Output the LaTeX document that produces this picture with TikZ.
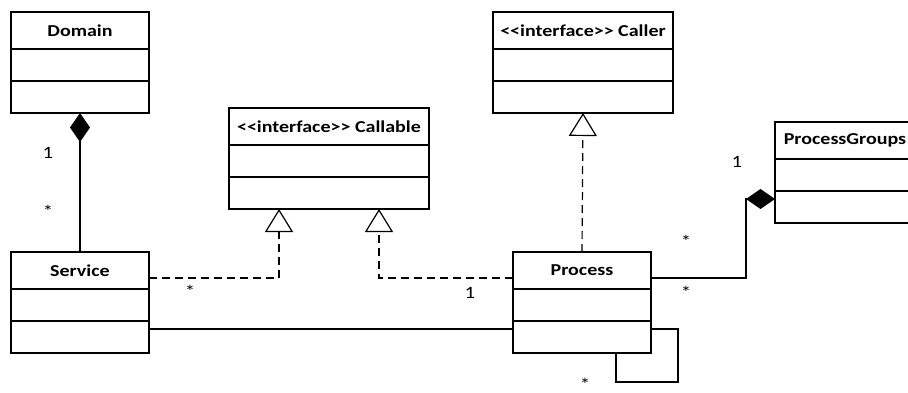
\documentclass[tikz,border=0pt]{standalone}
\usepackage{fontspec}
\setmainfont{Carlito}[FakeStretch=1.2]
\usetikzlibrary{positioning,arrows.meta}

\tikzset{every picture/.style={line width=0.9pt}}
\tikzset{
  classname/.style={draw, anchor=north west, minimum height=27.75pt, inner sep=0pt, outer sep=0pt, font=\fontsize{12.5}{15}\selectfont\bfseries},
  classpart/.style={draw, minimum height=24pt, inner sep=0pt, outer sep=0pt},
  mult/.style={font=\fontsize{13}{15}\selectfont, inner sep=0pt},
  realize/.style={dash pattern=on 6pt off 3.75pt, -{Triangle[open, length=17.25pt, width=21pt]}},
  compose/.style={-{Diamond[length=21.75pt, width=15pt]}},
}

\begin{document}
\begin{tikzpicture}[x=0.75pt,y=0.75pt,yscale=-1,xscale=1]
	\useasboundingbox (0,0) rectangle (908,393);
	\clip (0,0) rectangle (908,393);

	%Class: Domain
	\node[classname, minimum width=103.5pt] (domain) at (11,12) {Domain};
	\node[classpart, minimum width=103.5pt, below=0pt of domain] (domain-a) {};
	\node[classpart, minimum width=103.5pt, below=0pt of domain-a] (domain-m) {};
	%Class: Service
	\node[classname, minimum width=103.5pt] (service) at (11,252) {Service};
	\node[classpart, minimum width=103.5pt, below=0pt of service] (service-a) {};
	\node[classpart, minimum width=103.5pt, below=0pt of service-a] (service-m) {};
	%Class: Callable
	\node[classname, minimum width=150pt] (callable) at (229,108) {<{}<interface>{}> Callable};
	\node[classpart, minimum width=150pt, below=0pt of callable] (callable-a) {};
	\node[classpart, minimum width=150pt, below=0pt of callable-a] (callable-m) {};
	%Class: Caller
	\node[classname, minimum width=135pt] (caller) at (493,12) {<{}<interface>{}> Caller};
	\node[classpart, minimum width=135pt, below=0pt of caller] (caller-a) {};
	\node[classpart, minimum width=135pt, below=0pt of caller-a] (caller-m) {};
	%Class: Process
	\node[classname, minimum width=103.5pt] (process) at (513,252) {Process};
	\node[classpart, minimum width=103.5pt, below=0pt of process] (process-a) {};
	\node[classpart, minimum width=103.5pt, below=0pt of process-a] (process-m) {};
	%Class: ProcessGroups
	\node[classname, minimum width=105pt] (groups) at (775,122) {ProcessGroups};
	\node[classpart, minimum width=105pt, below=0pt of groups] (groups-a) {};
	\node[classpart, minimum width=105pt, below=0pt of groups-a] (groups-m) {};

	%Composition: Domain - Service
	\draw[compose] (service.north) -- (domain-m.south);
	%Realization: Service - Callable
	\draw[realize] ([yshift=-8.25pt]service.south east) -| ([xshift=-37.5pt]callable-m.south);
	%Realization: Process - Callable
	\draw[realize] ([yshift=-8.25pt]process.south west) -| ([xshift=37.5pt]callable-m.south);
	%Realization: Process - Caller
	\draw[realize] (process.north) -- (caller-m.south);
	%Composition: Process - ProcessGroups
	\coordinate (groups-join) at ([xshift=-21.75pt, yshift=6pt]groups-m.north west);
	\draw[compose] ([yshift=-8.25pt]process.south east) -| (groups-join) -- ([yshift=6pt]groups-m.north west);
	%Association: Service - Process
	\draw ([yshift=6pt]service-m.north east) -- ([yshift=6pt]process-m.north west);
	%Association: Process - Process
	\coordinate (loop-corner) at (678,382);
	\draw ([yshift=6pt]process-m.north east) -| (loop-corner) -| ([xshift=25.5pt]process-m.south);

	% Text Node
	\node[mult] (domain-one) at (48,153) {1};
	\node[mult] (service-many) at (48,211) {*};
	\node[mult] (callable-many) at (190,291) {*};
	\node[mult] (callable-one) at (470,293) {1};
	\node[mult] (groups-one) at (737,162) {1};
	\node[mult] (process-many) at (686,241) {*};
	\node[mult] (groups-many) at (686,292) {*};
	\node[mult] (loop-many) at (585,384) {*};
\end{tikzpicture}
\end{document}
